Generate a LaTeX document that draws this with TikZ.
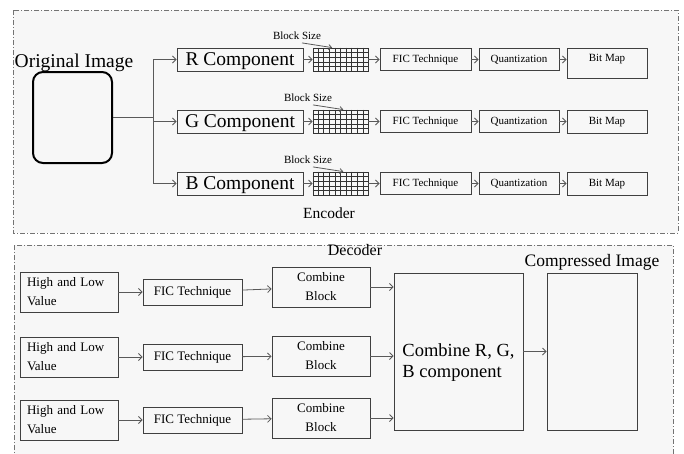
\documentclass[tikz,border=0pt]{standalone}
\usepackage{fontspec}
\setmainfont{Liberation Serif}
\usetikzlibrary{arrows.meta,calc}

\tikzset{
  box/.style={draw=black!75, line width=0.9pt, inner sep=1pt},
  link/.style={draw=black!65, line width=0.8pt, -{Straight Barb[length=3.5pt,width=7pt]}},
  wire/.style={draw=black!65, line width=0.8pt},
  frame/.style={draw=black!55, line width=0.8pt, dash pattern=on 5pt off 2pt on 1pt off 2pt, fill=black!3},
  small/.style={font=\fontsize{11}{13}\selectfont},
  medium/.style={font=\fontsize{13}{19}\selectfont},
  large/.style={font=\fontsize{19.5}{22}\selectfont},
  bitR/.style={minimum height=30pt, text depth=11pt},
}

\begin{document}
\begin{tikzpicture}[x=1pt,y=-1pt]
\useasboundingbox (0,0) rectangle (684,453);

% dashed frames
\draw[frame] (13,10) rectangle (678,233);
\draw[frame] (14,245) rectangle (673,475);

% =========================
% Encoder
% =========================
\node[large] (origlabel) at (74,63) {Original Image};
\node[draw, line width=2pt, rounded corners=10pt, minimum width=79pt, minimum height=91pt] (orig) at (72.5,117.5) {};
\coordinate (split) at (153,117.5);
\draw[wire] (orig.east) -- (split);

\foreach \ch/\yy/\lx/\ff in {R/59.5/297/0.35, G/121.5/308/0.55, B/183.5/308/0.55}{
  % component box
  \node[box, large, text depth=0pt, minimum width=126pt, minimum height=23pt] (comp\ch) at (240,\yy) {\ch\ Component};
  \draw[link] (split |- comp\ch.west) -- (comp\ch.west);

  % block grid
  \node[draw=black!80, line width=0.8pt, minimum width=55pt, minimum height=23pt, inner sep=0pt] (grid\ch) at (340.5,\yy) {};
  \foreach \i in {1,...,9}
    \draw[black!80, line width=0.6pt] ($(grid\ch.north west)!\i/10!(grid\ch.north east)$) -- ($(grid\ch.south west)!\i/10!(grid\ch.south east)$);
  \foreach \j in {1,...,4}
    \draw[black!80, line width=0.6pt] ($(grid\ch.north west)!\j/5!(grid\ch.south west)$) -- ($(grid\ch.north east)!\j/5!(grid\ch.south east)$);
  \node[small] (bs\ch) at (\lx,\yy-24) {Block Size};
  \draw[link, -{Straight Barb[length=3pt,width=5pt]}] ([xshift=5pt]bs\ch.south) -- ($(grid\ch.north west)!\ff!(grid\ch.north east)$);

  % processing chain
  \node[box, small, minimum width=91pt, minimum height=22pt] (fic\ch) at (425.5,\yy) {FIC Technique};
  \node[box, small, minimum width=80pt, minimum height=22pt] (quant\ch) at (519,\yy) {Quantization};
  \node[box, small, anchor=north, minimum width=80pt, minimum height=23pt, bit\ch/.try] (bit\ch) at (607,\yy-11.5) {Bit Map};

  \draw[link] (comp\ch) -- (grid\ch);
  \draw[link] (grid\ch) -- (fic\ch);
  \draw[link] (fic\ch) -- (quant\ch);
  \draw[link] (quant\ch.east) -- (quant\ch.east -| bit\ch.west);
}
\draw[wire] (split |- compR.west) -- (split |- compB.west);

\node[font=\fontsize{15.5}{18}\selectfont] (enclabel) at (329,213) {Encoder};

% =========================
% Decoder
% =========================
\node[font=\fontsize{16}{18}\selectfont] (declabel) at (355,250) {Decoder};

\node[box, font=\fontsize{18.5}{21}\selectfont, align=left, minimum width=129pt, minimum height=157pt] (rgb) at (458.5,351.5) {\rule{0pt}{34pt}Combine R, G,\\B component};
\node[box, minimum width=90pt, minimum height=157pt] (out) at (592,351.5) {};
\node[font=\fontsize{17.5}{20}\selectfont] (outlabel) at (592,262) {Compressed Image};

\foreach \k/\yy/\cy in {1/292/287, 2/357/356, 3/420/418}{
  \node[box, medium, align=left, text width=84pt, inner xsep=7pt, minimum height=40pt] (hl\k) at (69,\yy) {High and Low\\Value};
  \node[box, medium, minimum width=99pt, minimum height=26pt] (fic\k) at (192.5,\yy) {FIC Technique};
  \node[box, medium, align=center, minimum width=98pt, minimum height=40pt] (cb\k) at (321,\cy) {Combine\\Block};

  \draw[link] (hl\k) -- (fic\k);
  \draw[link] (fic\k) -- (cb\k);
  \draw[link] (cb\k.east) -- (cb\k.east -| rgb.west);
}
\draw[link] (rgb) -- (out);

\end{tikzpicture}
\end{document}
